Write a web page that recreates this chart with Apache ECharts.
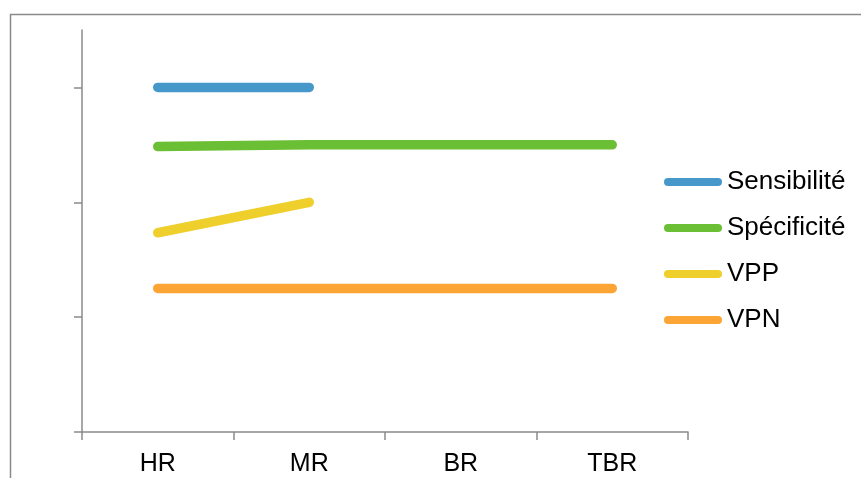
<!DOCTYPE html>
<html>
<head>
<meta charset="utf-8">
<script src="https://cdn.jsdelivr.net/npm/echarts@6/dist/echarts.min.js"></script>
<style>
html,body{margin:0;padding:0;background:#fff;}
#chart{width:861px;height:478px;}
</style>
</head>
<body>
<div id="chart"></div>
<script>
const categories = ['HR', 'MR', 'BR', 'TBR'];
const sensibilite = [0.6, 0.6, null, null];
const specificite = [0.497, 0.5, 0.5, 0.5];
const vpp = [0.347, 0.4, null, null];
const vpn = [0.25, 0.25, 0.25, 0.25];
const yTicks = [0, 0.2, 0.4, 0.6];

const seriesDefs = [
  { name: 'Sensibilité', data: sensibilite, color: '#4698ca' },
  { name: 'Spécificité', data: specificite, color: '#6bbf34' },
  { name: 'VPP', data: vpp, color: '#efcf2c' },
  { name: 'VPN', data: vpn, color: '#fca535' }
];

const FONT = "'Liberation Sans', Arial, sans-serif";
const AXIS_COLOR = '#8a8a8a';

const chart = echarts.init(document.getElementById('chart'));
chart.setOption({
  animation: false,
  backgroundColor: '#ffffff',
  graphic: [{
    type: 'rect',
    shape: { x: 10.5, y: 14.5, width: 880, height: 500 },
    style: { fill: 'none', stroke: AXIS_COLOR, lineWidth: 1.5 },
    silent: true
  }],
  grid: { left: 82, right: 173, top: 30, bottom: 46 },
  legend: {
    orient: 'vertical',
    left: 664,
    top: 168,
    padding: 0,
    itemWidth: 58,
    itemHeight: 8,
    itemGap: 18,
    icon: 'path://M4,0H54A4,4,0,0,1,54,8H4A4,4,0,0,1,4,0Z',
    textStyle: { fontFamily: FONT, fontSize: 26, color: '#000', lineHeight: 28 },
    data: seriesDefs.map(s => s.name)
  },
  xAxis: {
    type: 'category',
    data: categories,
    boundaryGap: true,
    axisLine: { lineStyle: { color: AXIS_COLOR, width: 1.5 } },
    axisTick: { show: true, length: 8, lineStyle: { color: AXIS_COLOR, width: 1.5 } },
    axisLabel: { fontFamily: FONT, fontSize: 25, color: '#000', margin: 20 },
    splitLine: { show: false }
  },
  yAxis: {
    type: 'value',
    min: 0,
    max: 0.7,
    interval: 0.2,
    axisLine: { show: true, lineStyle: { color: AXIS_COLOR, width: 1.5 } },
    axisTick: { show: true, length: 8, customValues: yTicks, lineStyle: { color: AXIS_COLOR, width: 1.5 } },
    axisLabel: { show: false },
    splitLine: { show: false }
  },
  series: seriesDefs.map(s => ({
    name: s.name,
    type: 'line',
    data: s.data,
    symbol: 'none',
    showSymbol: false,
    connectNulls: false,
    color: s.color,
    itemStyle: { color: s.color },
    lineStyle: { color: s.color, width: 9.5, cap: 'round', join: 'round' }
  }))
});
</script>
</body>
</html>
